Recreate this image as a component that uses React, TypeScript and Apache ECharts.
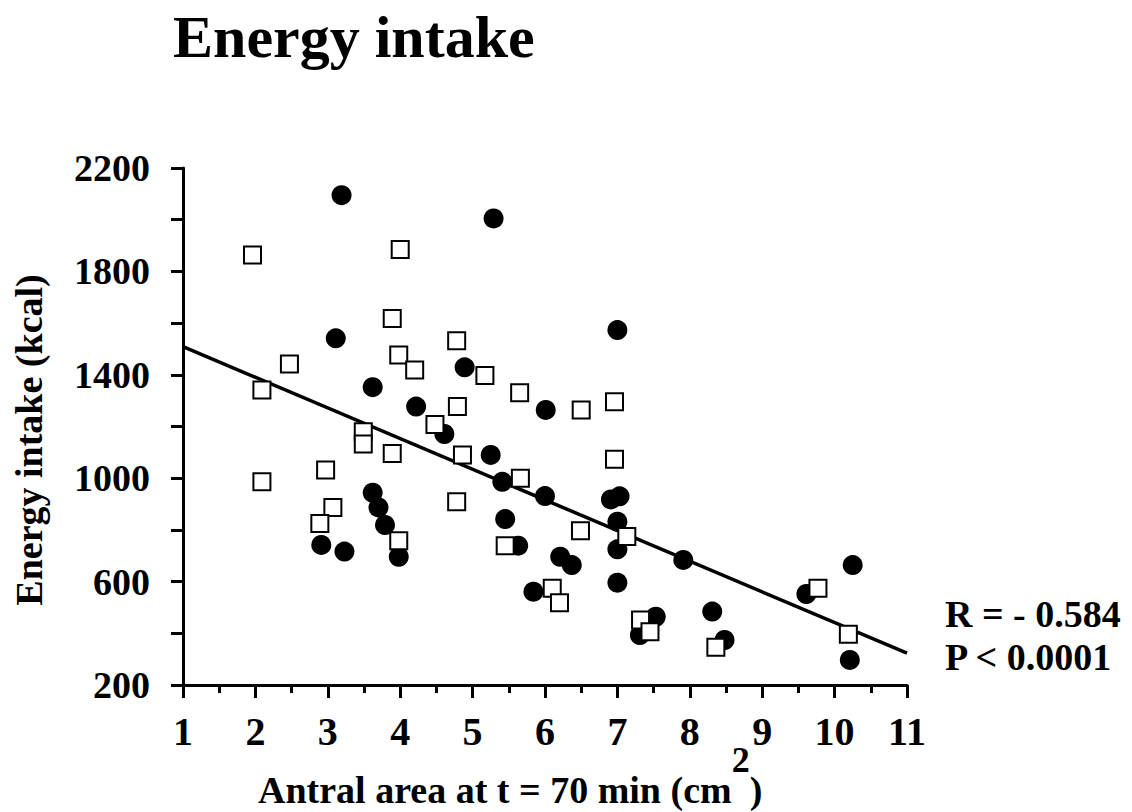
import React, { useEffect, useRef } from "react";
import * as echarts from "echarts";

// Filled circles (x: antral area cm², y: energy intake kcal)
const filledX = [3.19, 5.29, 3.11, 3.62, 4.89, 4.22, 4.61, 7.0, 6.01, 5.25, 5.41, 6.0, 2.91, 3.23, 3.62, 3.7, 3.79, 3.98, 5.45, 5.63, 5.84, 6.91, 7.03, 7.0, 7.0, 6.21, 6.37, 7.0, 7.91, 7.53, 7.31, 8.31, 8.48, 9.61, 10.25, 10.21];
const filledY = [2095, 2005, 1541, 1352, 1429, 1277, 1171, 1573, 1264, 1090, 986, 931, 742, 716, 944, 887, 819, 696, 842, 739, 561, 918, 930, 832, 725, 696, 664, 596, 684, 464, 393, 484, 374, 552, 664, 297];

// Open squares
const openX = [1.96, 4.0, 3.89, 4.78, 2.47, 3.98, 4.2, 5.17, 2.09, 5.65, 4.79, 4.48, 3.49, 3.49, 3.89, 4.86, 5.66, 2.09, 2.97, 3.07, 2.89, 3.98, 4.78, 5.45, 6.5, 6.96, 6.96, 6.49, 7.13, 6.1, 6.2, 7.32, 7.45, 8.36, 9.77, 10.19];
const openY = [1863, 1885, 1618, 1532, 1442, 1477, 1419, 1397, 1341, 1331, 1277, 1208, 1180, 1132, 1096, 1090, 1000, 986, 1032, 887, 825, 758, 909, 739, 1264, 1296, 1073, 797, 774, 574, 518, 451, 406, 346, 574, 396];

// Regression line end points
const fitX = [1, 11];
const fitY = [1509, 323];

const xTicks = { min: 1, max: 11, interval: 1 };
const yTicks = { min: 200, max: 2200, interval: 200, labelStep: 400 };

const titleText = "Energy intake";
const yAxisTitle = "Energy intake (kcal)";
const statLines = ["R = - 0.584", "P < 0.0001"];

const FONT = "'Liberation Serif', 'Times New Roman', serif";

export default function App() {
  const ref = useRef<HTMLDivElement>(null);
  useEffect(() => {
    if (!ref.current) return;
    const chart = echarts.init(ref.current, null, { renderer: "svg" });
    const zip = (xs: number[], ys: number[]) => xs.map((x, i) => [x, ys[i]]);
    const axisLineStyle = { color: "#000", width: 3 };
    chart.setOption({
      animation: false,
      backgroundColor: "#fff",
      grid: { left: 183, right: 225, top: 168, bottom: 127 },
      xAxis: {
        type: "value",
        min: xTicks.min,
        max: xTicks.max,
        interval: xTicks.interval,
        axisLine: { show: true, lineStyle: axisLineStyle },
        axisTick: { show: true, length: 13, lineStyle: axisLineStyle },
        minorTick: { show: true, splitNumber: 2, length: 8, lineStyle: axisLineStyle },
        splitLine: { show: false },
        minorSplitLine: { show: false },
        axisLabel: {
          color: "#000",
          fontFamily: FONT,
          fontWeight: "bold",
          fontSize: 40,
          margin: 26,
        },
      },
      yAxis: {
        type: "value",
        min: yTicks.min,
        max: yTicks.max,
        interval: yTicks.interval,
        axisLine: { show: true, lineStyle: axisLineStyle },
        axisTick: { show: true, length: 12, lineStyle: axisLineStyle },
        splitLine: { show: false },
        axisLabel: {
          color: "#000",
          fontFamily: FONT,
          fontWeight: "bold",
          fontSize: 38,
          margin: 33,
          formatter: (v: number) =>
            (v - yTicks.min) % yTicks.labelStep === 0 ? String(v) : "",
        },
      },
      graphic: [
        {
          type: "text",
          left: 173,
          top: 7,
          style: {
            text: titleText,
            fill: "#000",
            font: `bold 60px ${FONT}`,
          },
        },
        {
          type: "text",
          x: 29,
          y: 440,
          rotation: Math.PI / 2,
          style: {
            text: yAxisTitle,
            fill: "#000",
            font: `bold 38px ${FONT}`,
            align: "center",
            verticalAlign: "middle",
          },
        },
        {
          type: "text",
          x: 258,
          y: 790,
          style: {
            text: "{m|Antral area at t = 70 min (cm}{s|2}{m|)}",
            fill: "#000",
            align: "left",
            verticalAlign: "middle",
            rich: {
              m: { fontFamily: FONT, fontWeight: "bold", fontSize: 38, fill: "#000" },
              s: {
                fontFamily: FONT,
                fontWeight: "bold",
                fontSize: 36,
                fill: "#000",
                padding: [0, 0, 60, 0],
              },
            },
          },
        },
        {
          type: "text",
          x: 945,
          y: 614,
          style: {
            text: statLines[0],
            fill: "#000",
            font: `bold 38px ${FONT}`,
            align: "left",
            verticalAlign: "middle",
          },
        },
        {
          type: "text",
          x: 945,
          y: 657,
          style: {
            text: statLines[1],
            fill: "#000",
            font: `bold 38px ${FONT}`,
            align: "left",
            verticalAlign: "middle",
          },
        },
      ],
      series: [
        {
          type: "line",
          data: zip(fitX, fitY),
          showSymbol: false,
          symbol: "none",
          lineStyle: { color: "#000", width: 3.5 },
          z: 1,
          silent: true,
        },
        {
          type: "scatter",
          data: zip(filledX, filledY),
          symbol: "circle",
          symbolSize: 20,
          itemStyle: { color: "#000", opacity: 1 },
          z: 2,
        },
        {
          type: "scatter",
          data: zip(openX, openY),
          symbol: "rect",
          symbolSize: 17,
          itemStyle: { color: "#fff", borderColor: "#000", borderWidth: 2, opacity: 1 },
          z: 3,
        },
      ],
    });
    return () => chart.dispose();
  }, []);
  return (
    <div
      ref={ref}
      style={{ position: "absolute", left: 0, top: 0, width: 1132, height: 812 }}
    />
  );
}
